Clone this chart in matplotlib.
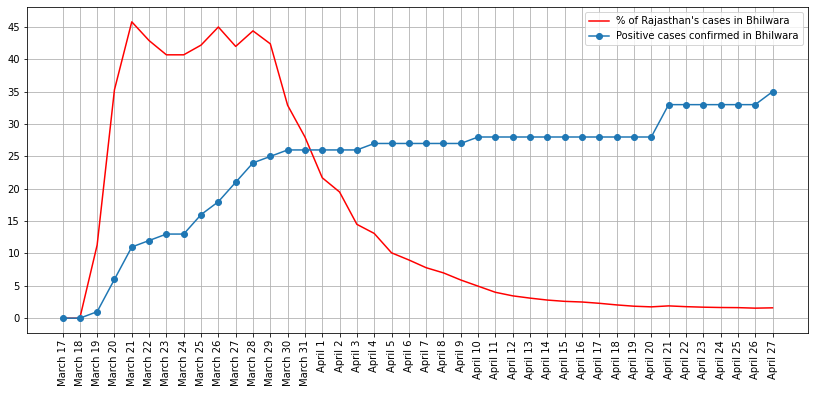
import matplotlib
matplotlib.use("Agg")
import matplotlib.pyplot as plt

dates = [f"March {d}" for d in range(17, 32)] + [f"April {d}" for d in range(1, 28)]

pct_rajasthan = [0, 0, 11.3, 35.3, 45.8, 42.9, 40.7, 40.7, 42.2, 45.0, 42.0, 44.4,
                 42.4, 32.9, 28.0, 21.7, 19.5, 14.5, 13.1, 10.1, 9.0, 7.8, 7.0, 5.9,
                 4.95, 4.0, 3.45, 3.1, 2.8, 2.6, 2.5, 2.3, 2.05, 1.85, 1.75, 1.9,
                 1.78, 1.7, 1.65, 1.63, 1.55, 1.6]

positive_cases = [0, 0, 1, 6, 11, 12, 13, 13, 16, 18, 21, 24, 25, 26, 26,
                  26, 26, 26, 27, 27, 27, 27, 27, 27, 28, 28, 28, 28, 28, 28,
                  28, 28, 28, 28, 28, 33, 33, 33, 33, 33, 33, 35]

fig = plt.figure(figsize=(815 / 72, 394 / 72), dpi=72)
ax = fig.add_axes([27 / 815, 61 / 394, 781 / 815, 326 / 394])

x = list(range(len(dates)))
ax.plot(x, pct_rajasthan, color="red", label="% of Rajasthan's cases in Bhilwara")
ax.plot(x, positive_cases, color="C0", marker="o", label="Positive cases confirmed in Bhilwara")
ax.set_xticks(x)
ax.set_xticklabels(dates, rotation=90)
ax.set_yticks(range(0, 50, 5))
ax.grid(True)
ax.legend(loc="upper right")

fig.savefig("out.png", dpi=72)
